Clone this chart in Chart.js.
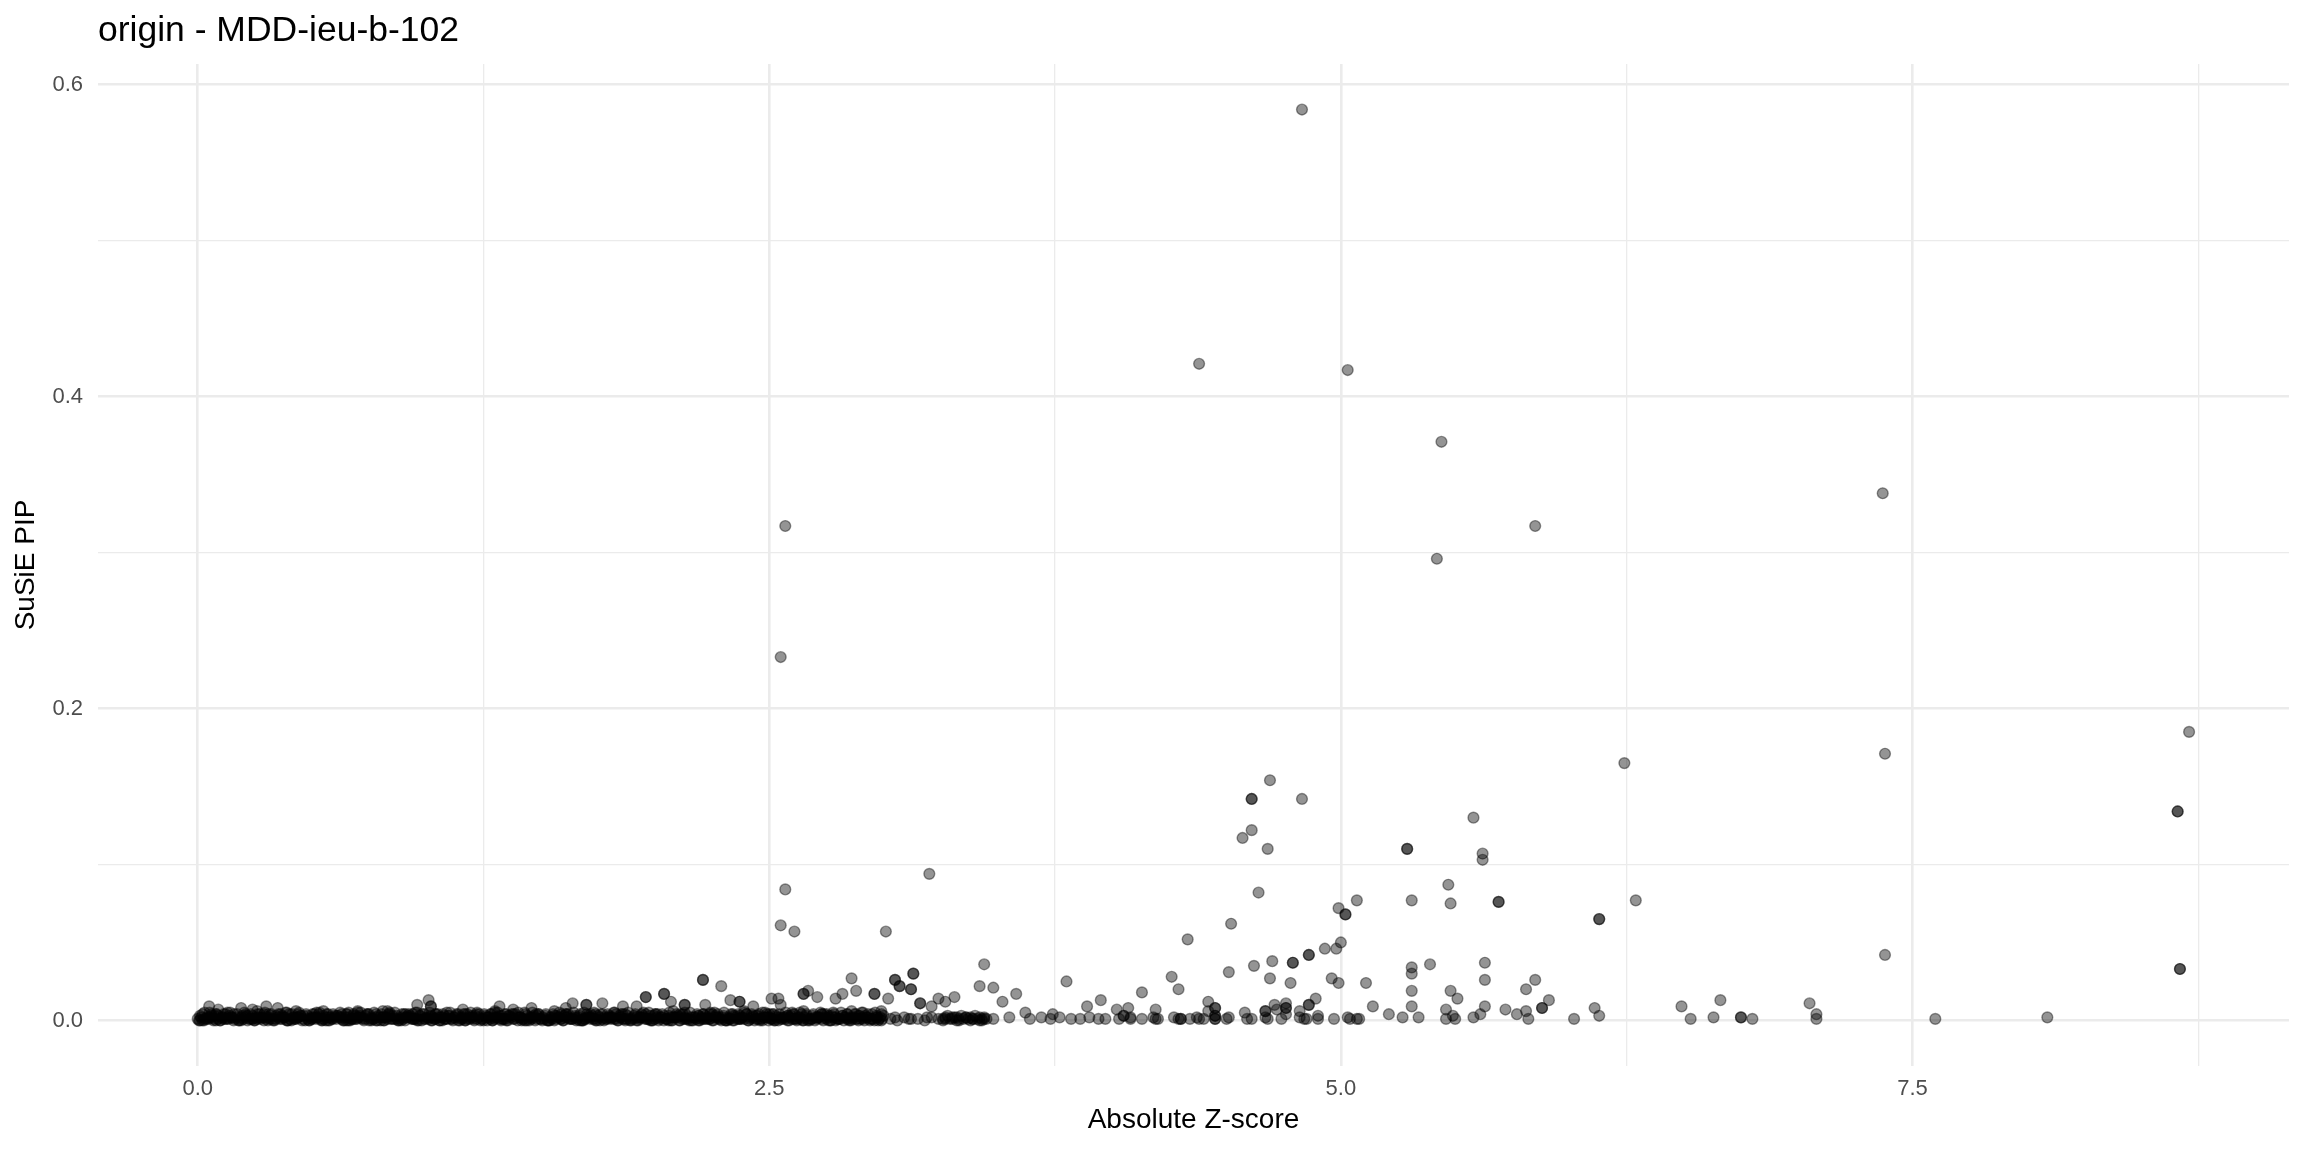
<!DOCTYPE html>
<html>
<head>
<meta charset="utf-8">
<script src="https://cdn.jsdelivr.net/npm/chart.js@4.4.1/dist/chart.umd.min.js"></script>
<style>
  html, body { margin: 0; padding: 0; background: #fff; }
</style>
</head>
<body>
<canvas id="myChart" width="2304" height="1152"></canvas>
<script>
// Absolute Z-score vs SuSiE PIP
var chartTitle = 'origin - MDD-ieu-b-102';
var xTitle = 'Absolute Z-score';
var yTitle = 'SuSiE PIP';

// labelled ticks (minor gridlines sit half-way between them)
var xTickLabels = ['0.0', '2.5', '5.0', '7.5'];
var yTickLabels = ['0.0', '0.2', '0.4', '0.6'];

// clearly separated points, [z, pip]; repeated pairs are the darker (overlapping) dots
var peakPoints = [
  [4.83, 0.584], [4.38, 0.421], [5.03, 0.417], [5.44, 0.371], [2.57, 0.317],
  [5.85, 0.317], [5.42, 0.296], [7.37, 0.338], [2.55, 0.233], [8.71, 0.185],
  [7.38, 0.171], [6.24, 0.165], [4.69, 0.154], [4.61, 0.142], [4.61, 0.142],
  [4.83, 0.142], [5.58, 0.130], [8.66, 0.134], [8.66, 0.134], [4.61, 0.122],
  [4.57, 0.117], [5.29, 0.110], [5.29, 0.110], [4.68, 0.110], [5.62, 0.107],
  [5.62, 0.103]
];

var midPoints = [
  [3.20, 0.094], [5.47, 0.087], [2.57, 0.084], [4.64, 0.082], [5.69, 0.076],
  [5.69, 0.076], [5.31, 0.077], [5.48, 0.075], [6.29, 0.077], [5.07, 0.077],
  [4.99, 0.072], [5.02, 0.068], [5.02, 0.068], [6.13, 0.065], [6.13, 0.065],
  [4.52, 0.062], [2.55, 0.061], [2.61, 0.057], [3.01, 0.057], [4.33, 0.052],
  [5.00, 0.050], [7.38, 0.042], [4.93, 0.046], [4.98, 0.046], [5.63, 0.037],
  [4.86, 0.042], [4.86, 0.042], [4.79, 0.037], [4.79, 0.037], [4.70, 0.038],
  [5.39, 0.036], [5.31, 0.034], [4.62, 0.035], [8.67, 0.033], [8.67, 0.033],
  [4.51, 0.031], [5.31, 0.030], [3.44, 0.036], [2.21, 0.026], [2.21, 0.026],
  [2.29, 0.022], [2.86, 0.027], [3.05, 0.026], [3.05, 0.026], [3.13, 0.030],
  [3.13, 0.030], [3.07, 0.022], [3.07, 0.022], [3.12, 0.020], [3.12, 0.020],
  [3.42, 0.022], [3.48, 0.021], [3.80, 0.025], [4.26, 0.028], [4.29, 0.020],
  [4.69, 0.027], [4.78, 0.024], [4.96, 0.027], [4.99, 0.024], [5.11, 0.024],
  [5.63, 0.026], [5.85, 0.026], [5.81, 0.020]
];

var lowPoints = [
  [3.58, 0.017], [3.52, 0.012], [3.95, 0.013], [4.13, 0.018], [5.31, 0.019],
  [5.48, 0.019], [5.51, 0.014], [4.89, 0.014], [4.86, 0.010], [4.86, 0.010],
  [5.14, 0.009], [5.31, 0.009], [5.21, 0.004], [5.27, 0.002], [5.46, 0.007],
  [5.63, 0.009], [5.72, 0.007], [5.77, 0.004], [5.88, 0.008], [5.88, 0.008],
  [5.91, 0.013], [6.11, 0.008], [6.13, 0.003], [6.02, 0.001], [4.97, 0.001],
  [5.04, 0.001], [5.08, 0.001], [5.34, 0.002], [5.46, 0.001], [5.50, 0.001],
  [5.58, 0.002], [5.82, 0.001], [6.49, 0.009], [6.53, 0.001], [6.63, 0.002],
  [6.66, 0.013], [6.75, 0.002], [6.75, 0.002], [6.80, 0.001], [7.05, 0.011],
  [7.08, 0.004], [7.08, 0.001], [7.60, 0.001], [8.09, 0.002],
  [3.97, 0.001], [4.05, 0.003], [4.05, 0.003], [4.08, 0.001], [4.19, 0.007],
  [4.19, 0.001], [4.29, 0.001], [4.34, 0.001], [4.38, 0.001], [4.42, 0.006],
  [4.45, 0.003], [4.45, 0.003], [4.45, 0.001], [4.45, 0.001], [4.50, 0.001],
  [4.58, 0.005], [4.61, 0.001], [4.67, 0.006], [4.67, 0.006], [4.68, 0.001],
  [4.72, 0.007], [4.76, 0.008], [4.76, 0.008], [4.76, 0.004], [4.82, 0.006],
  [4.84, 0.001], [4.90, 0.003], [5.49, 0.003], [5.61, 0.004], [5.81, 0.006],
  [3.48, 0.001], [3.55, 0.002], [3.64, 0.001], [3.69, 0.002], [3.73, 0.001],
  [3.77, 0.002], [3.82, 0.001], [3.86, 0.001], [3.90, 0.002], [3.94, 0.001],
  [4.03, 0.001], [4.08, 0.002], [4.13, 0.001], [4.18, 0.002], [4.20, 0.001],
  [4.27, 0.002], [4.30, 0.001], [4.30, 0.001], [4.37, 0.002], [4.40, 0.001],
  [4.51, 0.002], [4.59, 0.001], [4.67, 0.002], [4.74, 0.001], [4.82, 0.002],
  [4.85, 0.001], [4.90, 0.001], [5.03, 0.002], [5.07, 0.001],
  [3.62, 0.005], [3.74, 0.004], [3.89, 0.009], [4.02, 0.007], [4.07, 0.008],
  [4.42, 0.012], [4.45, 0.008], [4.45, 0.008], [4.71, 0.010], [4.76, 0.011],
  [2.33, 0.013], [2.37, 0.012], [2.37, 0.012], [2.54, 0.014], [2.65, 0.017],
  [2.65, 0.017], [2.67, 0.019], [2.71, 0.015], [2.79, 0.014], [2.82, 0.017],
  [2.88, 0.019], [2.96, 0.017], [2.96, 0.017], [3.02, 0.014], [3.16, 0.011],
  [3.16, 0.011], [3.21, 0.009], [3.24, 0.014], [3.27, 0.012], [3.31, 0.015],
  [0.05, 0.009], [0.09, 0.007], [0.19, 0.008], [0.24, 0.007], [0.30, 0.009],
  [0.35, 0.008], [0.43, 0.006], [0.55, 0.006], [0.66, 0.005], [0.70, 0.006],
  [0.81, 0.006], [0.84, 0.005], [0.96, 0.010], [1.01, 0.013], [1.02, 0.009],
  [1.02, 0.009], [1.16, 0.007], [1.30, 0.006], [1.32, 0.009], [1.38, 0.007],
  [1.46, 0.008], [1.61, 0.008], [1.64, 0.011], [1.70, 0.010], [1.70, 0.010],
  [1.77, 0.011], [1.86, 0.009], [1.92, 0.009], [1.96, 0.015], [1.96, 0.015],
  [2.04, 0.017], [2.04, 0.017], [2.07, 0.012], [2.13, 0.010], [2.13, 0.010],
  [2.22, 0.010], [2.43, 0.009], [2.51, 0.014], [2.55, 0.010]
];

// the dense strip of near-zero PIPs (z 0 - 3.45), staggered rows
var stripZ1 = [
  0.00, 0.02, 0.05, 0.07, 0.10, 0.12, 0.15, 0.18, 0.20, 0.23,
  0.25, 0.28, 0.30, 0.33, 0.36, 0.38, 0.41, 0.43, 0.46, 0.49,
  0.51, 0.54, 0.56, 0.59, 0.62, 0.64, 0.67, 0.69, 0.72, 0.75,
  0.77, 0.80, 0.82, 0.85, 0.88, 0.90, 0.93, 0.95, 0.98, 1.01,
  1.03, 1.06, 1.08, 1.11, 1.14, 1.16, 1.19, 1.21, 1.24, 1.27,
  1.29, 1.32, 1.34, 1.37, 1.40, 1.42, 1.45, 1.47, 1.50, 1.53,
  1.55, 1.58, 1.60, 1.63, 1.66, 1.68, 1.71, 1.73, 1.76, 1.79,
  1.81, 1.84, 1.86, 1.89, 1.92, 1.94, 1.97, 1.99, 2.02, 2.05,
  2.07, 2.10, 2.12, 2.15, 2.18, 2.20, 2.23, 2.25, 2.28, 2.31,
  2.33, 2.36, 2.38, 2.41, 2.44, 2.46, 2.49, 2.51, 2.54, 2.57,
  2.59, 2.62, 2.64, 2.67, 2.70, 2.72, 2.75, 2.77, 2.80, 2.83,
  2.85, 2.88, 2.90, 2.93, 2.96, 2.98, 3.26, 3.29, 3.32, 3.35,
  3.38, 3.41, 3.44, 3.03, 3.09, 3.15, 3.21, 3.28, 3.34, 3.40
];
var stripPip1 = [
  0.001, 0.000, 0.002, 0.001, 0.000, 0.001, 0.002, 0.000, 0.001, 0.001,
  0.000, 0.002, 0.001, 0.000, 0.001, 0.002, 0.000, 0.001, 0.001, 0.000,
  0.002, 0.001, 0.000, 0.001, 0.002, 0.000, 0.001, 0.001, 0.002, 0.000,
  0.001, 0.000, 0.002, 0.001, 0.000, 0.001, 0.002, 0.001, 0.000, 0.001,
  0.002, 0.000, 0.001, 0.001, 0.000, 0.002, 0.001, 0.000, 0.001, 0.002,
  0.000, 0.001, 0.001, 0.002, 0.000, 0.001, 0.000, 0.002, 0.001, 0.000,
  0.001, 0.002, 0.000, 0.001, 0.001, 0.000, 0.002, 0.001, 0.000, 0.001,
  0.002, 0.000, 0.001, 0.001, 0.000, 0.002, 0.001, 0.000, 0.001, 0.001,
  0.000, 0.002, 0.001, 0.000, 0.001, 0.001, 0.002, 0.000, 0.001, 0.000,
  0.001, 0.001, 0.002, 0.000, 0.001, 0.000, 0.002, 0.001, 0.000, 0.001,
  0.002, 0.000, 0.001, 0.001, 0.000, 0.002, 0.001, 0.000, 0.001, 0.002,
  0.000, 0.001, 0.001, 0.002, 0.000, 0.001, 0.000, 0.001, 0.002, 0.001,
  0.000, 0.001, 0.002, 0.001, 0.002, 0.001, 0.002, 0.003, 0.003, 0.003
];
var stripZ2 = [
  0.01, 0.04, 0.06, 0.09, 0.11, 0.14, 0.16, 0.19, 0.22, 0.24,
  0.27, 0.29, 0.32, 0.35, 0.37, 0.40, 0.42, 0.45, 0.48, 0.50,
  0.53, 0.55, 0.58, 0.61, 0.63, 0.66, 0.68, 0.71, 0.74, 0.76,
  0.79, 0.81, 0.84, 0.87, 0.89, 0.92, 0.94, 0.97, 1.00, 1.02,
  1.05, 1.07, 1.10, 1.13, 1.15, 1.18, 1.20, 1.23, 1.26, 1.28,
  1.31, 1.33, 1.36, 1.39, 1.41, 1.44, 1.46, 1.49, 1.52, 1.54,
  1.57, 1.59, 1.62, 1.65, 1.67, 1.70, 1.72, 1.75, 1.78, 1.80,
  1.83, 1.85, 1.88, 1.91, 1.93, 1.96, 1.98, 2.01, 2.04, 2.06,
  2.09, 2.11, 2.14, 2.17, 2.19, 2.22, 2.24, 2.27, 2.30, 2.32,
  2.35, 2.37, 2.40, 2.43, 2.45, 2.48, 2.50, 2.53, 2.56, 2.58,
  2.61, 2.63, 2.66, 2.69, 2.71, 2.74, 2.76, 2.79, 2.82, 2.84,
  2.87, 2.89, 2.92, 2.95, 2.97, 3.00, 3.27, 3.30, 3.33, 3.36,
  3.39, 3.42, 3.06, 3.12, 3.18, 3.24, 3.31, 3.37, 3.43, 3.45
];
var stripPip2 = [
  0.003, 0.002, 0.004, 0.003, 0.002, 0.003, 0.004, 0.002, 0.003, 0.003,
  0.002, 0.004, 0.003, 0.002, 0.003, 0.004, 0.002, 0.003, 0.003, 0.002,
  0.004, 0.003, 0.002, 0.003, 0.004, 0.002, 0.003, 0.003, 0.004, 0.002,
  0.003, 0.002, 0.004, 0.003, 0.002, 0.003, 0.004, 0.003, 0.002, 0.003,
  0.004, 0.002, 0.003, 0.003, 0.002, 0.004, 0.003, 0.002, 0.003, 0.004,
  0.002, 0.003, 0.003, 0.004, 0.002, 0.003, 0.002, 0.004, 0.003, 0.002,
  0.003, 0.004, 0.002, 0.003, 0.003, 0.002, 0.004, 0.003, 0.002, 0.003,
  0.004, 0.002, 0.003, 0.003, 0.002, 0.004, 0.003, 0.002, 0.003, 0.003,
  0.002, 0.004, 0.003, 0.002, 0.003, 0.003, 0.004, 0.002, 0.003, 0.002,
  0.003, 0.003, 0.004, 0.002, 0.003, 0.002, 0.004, 0.003, 0.002, 0.003,
  0.004, 0.002, 0.003, 0.003, 0.002, 0.004, 0.003, 0.002, 0.003, 0.004,
  0.002, 0.003, 0.003, 0.004, 0.002, 0.003, 0.001, 0.002, 0.001, 0.002,
  0.001, 0.002, 0.000, 0.001, 0.000, 0.001, 0.002, 0.001, 0.000, 0.001
];
var stripZ3 = [
  0.03, 0.08, 0.13, 0.21, 0.26, 0.31, 0.39, 0.44, 0.52, 0.57,
  0.65, 0.70, 0.78, 0.83, 0.91, 0.96, 1.04, 1.09, 1.17, 1.22,
  1.30, 1.35, 1.43, 1.48, 1.56, 1.61, 1.69, 1.74, 1.82, 1.87,
  1.95, 2.00, 2.08, 2.13, 2.21, 2.26, 2.34, 2.39, 2.47, 2.52,
  2.60, 2.65, 2.73, 2.78, 2.86, 2.91, 2.99
];
var stripPip3 = [
  0.005, 0.004, 0.005, 0.004, 0.006, 0.004, 0.005, 0.004, 0.005, 0.004,
  0.004, 0.005, 0.004, 0.006, 0.004, 0.005, 0.004, 0.005, 0.004, 0.004,
  0.005, 0.004, 0.005, 0.004, 0.006, 0.004, 0.005, 0.004, 0.005, 0.004,
  0.005, 0.004, 0.006, 0.005, 0.004, 0.005, 0.004, 0.006, 0.005, 0.004,
  0.005, 0.006, 0.004, 0.005, 0.006, 0.005, 0.006
];
var stripZ4 = [
  0.01, 0.03, 0.06, 0.08, 0.11, 0.13, 0.16, 0.19, 0.21, 0.24,
  0.26, 0.29, 0.31, 0.34, 0.37, 0.39, 0.42, 0.44, 0.47, 0.50,
  0.52, 0.55, 0.57, 0.60, 0.63, 0.65, 0.68, 0.70, 0.73, 0.76,
  0.78, 0.81, 0.83, 0.86, 0.89, 0.91, 0.94, 0.96, 0.99, 1.02,
  1.04, 1.07, 1.09, 1.12, 1.15, 1.17, 1.20, 1.22, 1.25, 1.28,
  1.30, 1.33, 1.35, 1.38, 1.41, 1.43, 1.46, 1.48, 1.51, 1.54,
  1.56, 1.59, 1.61, 1.64, 1.67, 1.69, 1.72, 1.74, 1.77, 1.80,
  1.82, 1.85, 1.87, 1.90, 1.93, 1.95, 1.98, 2.00, 2.03, 2.06,
  2.08, 2.11, 2.13, 2.16, 2.19, 2.21, 2.24, 2.26, 2.29, 2.32,
  2.34, 2.37, 2.39, 2.42, 2.45, 2.47, 2.50, 2.52, 2.55, 2.58,
  2.60, 2.63, 2.65, 2.68, 2.71, 2.73, 2.76, 2.78, 2.81, 2.84,
  2.86, 2.89, 2.91, 2.94, 2.97, 2.99, 3.27, 3.30, 3.33, 3.36,
  3.39, 3.42, 3.44, 3.05, 3.11, 3.19, 3.26, 3.32, 3.38, 3.43
];
var stripPip4 = [
  0.000, 0.001, 0.002, 0.000, 0.001, 0.002, 0.001, 0.000, 0.002, 0.001,
  0.001, 0.000, 0.002, 0.001, 0.002, 0.000, 0.001, 0.002, 0.000, 0.001,
  0.002, 0.001, 0.000, 0.002, 0.001, 0.000, 0.001, 0.002, 0.001, 0.000,
  0.000, 0.002, 0.001, 0.001, 0.000, 0.002, 0.001, 0.000, 0.001, 0.002,
  0.001, 0.000, 0.001, 0.002, 0.001, 0.000, 0.002, 0.001, 0.000, 0.001,
  0.002, 0.001, 0.000, 0.001, 0.002, 0.000, 0.001, 0.001, 0.002, 0.000,
  0.000, 0.001, 0.002, 0.001, 0.000, 0.001, 0.002, 0.000, 0.001, 0.002,
  0.001, 0.002, 0.000, 0.001, 0.001, 0.002, 0.000, 0.001, 0.002, 0.000,
  0.002, 0.000, 0.001, 0.002, 0.000, 0.001, 0.001, 0.002, 0.000, 0.001,
  0.000, 0.001, 0.001, 0.002, 0.001, 0.000, 0.002, 0.001, 0.001, 0.000,
  0.001, 0.002, 0.000, 0.001, 0.002, 0.001, 0.000, 0.002, 0.001, 0.001,
  0.002, 0.000, 0.001, 0.001, 0.002, 0.000, 0.002, 0.001, 0.000, 0.002,
  0.001, 0.000, 0.001, 0.002, 0.001, 0.002, 0.001, 0.000, 0.002, 0.001
];
var stripZ5 = [
  0.015, 0.047, 0.074, 0.108, 0.133, 0.166, 0.197, 0.224, 0.258, 0.284,
  0.316, 0.343, 0.377, 0.405, 0.436, 0.463, 0.497, 0.524, 0.556, 0.585,
  0.613, 0.647, 0.674, 0.706, 0.735, 0.763, 0.796, 0.826, 0.853, 0.887,
  0.914, 0.946, 0.973, 1.007, 1.035, 1.064, 1.096, 1.123, 1.157, 1.184,
  1.215, 1.247, 1.274, 1.306, 1.335, 1.363, 1.397, 1.425, 1.454, 1.486,
  1.513, 1.547, 1.575, 1.604, 1.636, 1.664, 1.695, 1.724, 1.757, 1.785,
  1.813, 1.846, 1.874, 1.905, 1.936, 1.963, 1.995, 2.024, 2.056, 2.085,
  2.114, 2.146, 2.175, 2.204, 2.237, 2.265, 2.294, 2.326, 2.355, 2.384,
  2.416, 2.443, 2.475, 2.507, 2.534, 2.566, 2.595, 2.623, 2.655, 2.684,
  2.715, 2.746, 2.773, 2.805, 2.836, 2.864, 2.895, 2.925, 2.954, 2.985
];
var stripPip5 = [
  0.002, 0.001, 0.003, 0.002, 0.001, 0.002, 0.003, 0.001, 0.002, 0.002,
  0.001, 0.003, 0.002, 0.001, 0.002, 0.003, 0.001, 0.002, 0.002, 0.001,
  0.003, 0.002, 0.001, 0.002, 0.003, 0.001, 0.002, 0.002, 0.003, 0.001,
  0.002, 0.001, 0.003, 0.002, 0.001, 0.002, 0.003, 0.002, 0.001, 0.002,
  0.003, 0.001, 0.002, 0.002, 0.001, 0.003, 0.002, 0.001, 0.002, 0.003,
  0.001, 0.002, 0.002, 0.003, 0.001, 0.002, 0.001, 0.003, 0.002, 0.001,
  0.002, 0.003, 0.001, 0.002, 0.002, 0.001, 0.003, 0.002, 0.001, 0.002,
  0.003, 0.001, 0.002, 0.002, 0.001, 0.003, 0.002, 0.001, 0.002, 0.002,
  0.001, 0.003, 0.002, 0.001, 0.002, 0.002, 0.003, 0.001, 0.002, 0.001,
  0.002, 0.002, 0.003, 0.001, 0.002, 0.001, 0.003, 0.002, 0.001, 0.002
];
var stripZ6 = [
  0.028, 0.061, 0.089, 0.122, 0.149, 0.181, 0.212, 0.241, 0.271, 0.302,
  0.329, 0.362, 0.391, 0.419, 0.451, 0.482, 0.509, 0.541, 0.572, 0.599,
  0.631, 0.659, 0.692, 0.721, 0.749, 0.781, 0.812, 0.839, 0.871, 0.902,
  0.929, 0.961, 0.989, 1.021, 1.051, 1.079, 1.111, 1.139, 1.171, 1.199,
  1.231, 1.261, 1.289, 1.321, 1.349, 1.381, 1.411, 1.439, 1.471, 1.499,
  1.531, 1.561, 1.589, 1.621, 1.649, 1.681, 1.709, 1.741, 1.771, 1.799,
  1.831, 1.859, 1.891, 1.921, 1.949, 1.979, 2.011, 2.039, 2.071, 2.099,
  2.131, 2.159, 2.191, 2.219, 2.251, 2.281, 2.309, 2.341, 2.369, 2.401,
  2.429, 2.461, 2.489, 2.521, 2.549, 2.581, 2.609, 2.641, 2.669, 2.701,
  2.729, 2.759, 2.791, 2.819, 2.851, 2.879, 2.909, 2.941, 2.969, 2.994
];
var stripPip6 = [
  0.000, 0.003, 0.001, 0.004, 0.002, 0.000, 0.003, 0.001, 0.004, 0.002,
  0.001, 0.004, 0.000, 0.002, 0.003, 0.001, 0.004, 0.000, 0.002, 0.003,
  0.002, 0.000, 0.003, 0.001, 0.004, 0.002, 0.000, 0.003, 0.001, 0.004,
  0.003, 0.001, 0.004, 0.000, 0.002, 0.003, 0.001, 0.004, 0.000, 0.002,
  0.004, 0.002, 0.000, 0.003, 0.001, 0.004, 0.002, 0.000, 0.003, 0.001,
  0.000, 0.003, 0.001, 0.004, 0.002, 0.000, 0.003, 0.001, 0.004, 0.002,
  0.001, 0.004, 0.000, 0.002, 0.003, 0.001, 0.004, 0.000, 0.002, 0.003,
  0.002, 0.000, 0.003, 0.001, 0.004, 0.002, 0.000, 0.003, 0.001, 0.004,
  0.003, 0.001, 0.004, 0.000, 0.002, 0.003, 0.001, 0.004, 0.000, 0.002,
  0.004, 0.002, 0.000, 0.003, 0.001, 0.004, 0.002, 0.000, 0.003, 0.001
];
var stripZ7 = [
  0.006, 0.038, 0.069, 0.097, 0.128, 0.157, 0.186, 0.218, 0.247, 0.276,
  0.307, 0.336, 0.368, 0.397, 0.426, 0.457, 0.486, 0.517, 0.546, 0.577,
  0.606, 0.636, 0.667, 0.696, 0.727, 0.756, 0.786, 0.817, 0.846, 0.876,
  0.907, 0.936, 0.967, 0.996, 1.026, 1.057, 1.086, 1.116, 1.147, 1.176,
  1.206, 1.237, 1.266, 1.296, 1.327, 1.356, 1.386, 1.417, 1.446, 1.476,
  1.507, 1.536, 1.566, 1.597, 1.626, 1.656, 1.687, 1.716, 1.746, 1.777,
  1.806, 1.836, 1.867, 1.896, 1.926, 1.957, 1.986, 2.016, 2.047, 2.076,
  2.106, 2.137, 2.166, 2.196, 2.227, 2.256, 2.286, 2.317, 2.346, 2.376,
  2.407, 2.436, 2.466, 2.497, 2.526, 2.556, 2.587, 2.616, 2.646, 2.677,
  2.706, 2.736, 2.767, 2.796, 2.826, 2.857, 2.886, 2.916, 2.947, 2.976
];
var stripPip7 = [
  0.000, 0.001, 0.000, 0.000, 0.001, 0.000, 0.001, 0.000, 0.000, 0.001,
  0.000, 0.000, 0.001, 0.000, 0.001, 0.000, 0.000, 0.001, 0.000, 0.000,
  0.001, 0.000, 0.000, 0.001, 0.000, 0.001, 0.000, 0.000, 0.001, 0.000,
  0.000, 0.001, 0.000, 0.001, 0.000, 0.000, 0.001, 0.000, 0.000, 0.001,
  0.001, 0.000, 0.000, 0.001, 0.000, 0.000, 0.001, 0.000, 0.001, 0.000,
  0.000, 0.000, 0.001, 0.000, 0.001, 0.000, 0.000, 0.001, 0.000, 0.000,
  0.001, 0.000, 0.001, 0.000, 0.000, 0.001, 0.000, 0.000, 0.001, 0.000,
  0.000, 0.001, 0.000, 0.000, 0.001, 0.000, 0.001, 0.000, 0.000, 0.001,
  0.000, 0.000, 0.001, 0.000, 0.000, 0.001, 0.000, 0.001, 0.000, 0.000,
  0.001, 0.000, 0.000, 0.001, 0.000, 0.000, 0.001, 0.000, 0.001, 0.000
];
var stripZ8 = [
  0.021, 0.052, 0.083, 0.114, 0.142, 0.173, 0.204, 0.232, 0.263, 0.294,
  0.322, 0.353, 0.384, 0.412, 0.443, 0.474, 0.502, 0.533, 0.564, 0.592,
  0.623, 0.654, 0.682, 0.713, 0.744, 0.772, 0.803, 0.834, 0.862, 0.893,
  0.924, 0.952, 0.983, 1.014, 1.042, 1.073, 1.104, 1.132, 1.163, 1.194,
  1.222, 1.253, 1.284, 1.312, 1.343, 1.374, 1.402, 1.433, 1.464, 1.492,
  1.523, 1.554, 1.582, 1.613, 1.644, 1.672, 1.703, 1.734, 1.762, 1.793,
  1.824, 1.852, 1.883, 1.914, 1.942, 1.973, 2.004, 2.032, 2.063, 2.094,
  2.122, 2.153, 2.184, 2.212, 2.243, 2.274, 2.302, 2.333, 2.364, 2.392,
  2.423, 2.454, 2.482, 2.513, 2.544, 2.572, 2.603, 2.634, 2.662, 2.693,
  2.724, 2.752, 2.783, 2.814, 2.842, 2.873, 2.904, 2.932, 2.963, 2.991
];
var stripPip8 = [
  0.004, 0.005, 0.004, 0.004, 0.005, 0.004, 0.005, 0.004, 0.004, 0.005,
  0.004, 0.004, 0.005, 0.004, 0.005, 0.004, 0.004, 0.005, 0.004, 0.004,
  0.005, 0.004, 0.004, 0.005, 0.004, 0.005, 0.004, 0.004, 0.005, 0.004,
  0.004, 0.005, 0.004, 0.005, 0.004, 0.004, 0.005, 0.004, 0.004, 0.005,
  0.005, 0.004, 0.004, 0.005, 0.004, 0.004, 0.005, 0.004, 0.005, 0.004,
  0.004, 0.004, 0.005, 0.004, 0.005, 0.004, 0.004, 0.005, 0.004, 0.004,
  0.005, 0.004, 0.005, 0.004, 0.004, 0.005, 0.004, 0.004, 0.005, 0.004,
  0.004, 0.005, 0.004, 0.004, 0.005, 0.004, 0.005, 0.004, 0.004, 0.005,
  0.004, 0.004, 0.005, 0.004, 0.004, 0.005, 0.004, 0.005, 0.004, 0.004,
  0.005, 0.004, 0.004, 0.005, 0.004, 0.004, 0.005, 0.004, 0.005, 0.004
];

// axis limits = data range plus ggplot's 5% expansion
var xMin = -0.436, xMax = 9.147;
var yMin = -0.0292, yMax = 0.6132;

function toPoints(zs, pips) {
  return zs.map(function (z, i) { return { x: z, y: pips[i] }; });
}
function pairs(list) {
  return list.map(function (p) { return { x: p[0], y: p[1] }; });
}

var allPoints = []
  .concat(toPoints(stripZ1, stripPip1))
  .concat(toPoints(stripZ2, stripPip2))
  .concat(toPoints(stripZ3, stripPip3))
  .concat(toPoints(stripZ4, stripPip4))
  .concat(toPoints(stripZ5, stripPip5))
  .concat(toPoints(stripZ6, stripPip6))
  .concat(toPoints(stripZ7, stripPip7))
  .concat(toPoints(stripZ8, stripPip8))
  .concat(pairs(lowPoints))
  .concat(pairs(midPoints))
  .concat(pairs(peakPoints));

Chart.defaults.font.family = "'Liberation Sans', Arial, sans-serif";

var gridGrey = '#EBEBEB';
var dotColor = 'rgba(0, 0, 0, 0.42)';

function isMajorX(v) { return Math.round(v / 1.25) % 2 === 0; }
function isMajorY(v) { return Math.round(v * 10) % 2 === 0; }

var ctx = document.getElementById('myChart').getContext('2d');

var myChart = new Chart(ctx, {
  type: 'scatter',
  data: {
    datasets: [{
      label: 'SNPs',
      data: allPoints,
      backgroundColor: dotColor,
      borderColor: dotColor,
      borderWidth: 1.4,
      pointRadius: 5.4,
      pointHoverRadius: 5.4
    }]
  },
  options: {
    responsive: false,
    animation: false,
    devicePixelRatio: 1,
    layout: { padding: { left: 0, right: 15, top: 0, bottom: 0 } },
    plugins: {
      legend: { display: false },
      tooltip: { enabled: false },
      title: {
        display: true,
        text: chartTitle,
        align: 'start',
        fullSize: false,
        color: '#000',
        font: { size: 35.5, weight: 'normal' },
        padding: { top: 10, bottom: 11.4 }
      }
    },
    scales: {
      x: {
        type: 'linear',
        min: xMin,
        max: xMax,
        afterFit: function (s) { s.height = 86; },
        border: { display: false },
        grid: {
          drawTicks: false,
          color: gridGrey,
          lineWidth: function (c) { return isMajorX(c.tick.value) ? 2.6 : 1.3; }
        },
        ticks: {
          stepSize: 1.25,
          includeBounds: false,
          autoSkip: false,
          maxRotation: 0,
          padding: 10,
          color: '#4D4D4D',
          font: { size: 22 },
          callback: function (v) {
            return isMajorX(v) ? xTickLabels[Math.round(v / 2.5)] : '';
          }
        },
        title: {
          display: true,
          text: xTitle,
          color: '#000',
          font: { size: 28 },
          padding: { top: 0, bottom: 15 }
        }
      },
      y: {
        type: 'linear',
        min: yMin,
        max: yMax,
        afterFit: function (s) { s.width = 98; },
        border: { display: false },
        grid: {
          drawTicks: false,
          color: gridGrey,
          lineWidth: function (c) { return isMajorY(c.tick.value) ? 2.6 : 1.3; }
        },
        ticks: {
          stepSize: 0.1,
          includeBounds: false,
          autoSkip: false,
          padding: 15,
          color: '#4D4D4D',
          font: { size: 22 },
          callback: function (v) {
            return isMajorY(v) ? yTickLabels[Math.round(v * 5)] : '';
          }
        },
        title: {
          display: true,
          text: yTitle,
          color: '#000',
          font: { size: 28 },
          padding: { top: 9, bottom: 0 }
        }
      }
    }
  }
});
</script>
</body>
</html>
